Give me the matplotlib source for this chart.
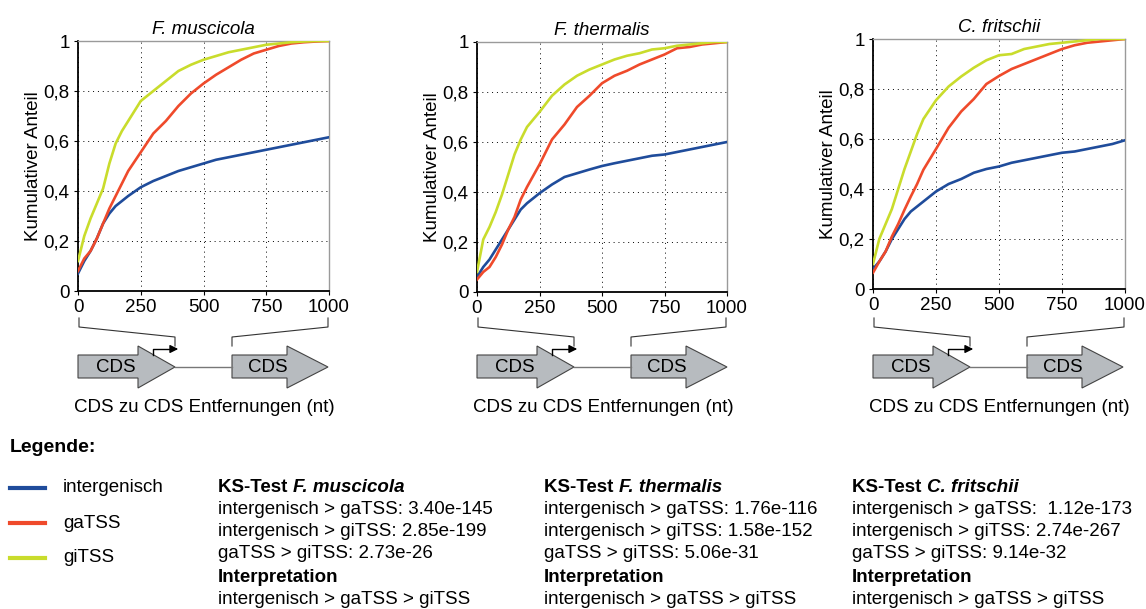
import numpy as np
import matplotlib.pyplot as plt
from matplotlib.patches import Polygon

plt.rcParams["font.family"] = ["Liberation Sans", "DejaVu Sans"]

# distance grid (nt) shared by all curves
dist = [0, 25, 50, 75, 100, 125, 150, 175, 200, 250, 300, 350, 400, 450,
        500, 550, 600, 650, 700, 750, 800, 850, 900, 950, 1000]

species = ["F. muscicola", "F. thermalis", "C. fritschii"]

musc_inter = [0.07, 0.12, 0.16, 0.21, 0.27, 0.31, 0.34, 0.36, 0.38, 0.415, 0.44, 0.46, 0.48,
              0.495, 0.51, 0.525, 0.535, 0.545, 0.555, 0.565, 0.575, 0.585, 0.595, 0.605, 0.615]
musc_ga = [0.08, 0.13, 0.16, 0.21, 0.27, 0.33, 0.38, 0.43, 0.48, 0.555, 0.63, 0.68, 0.74,
           0.79, 0.83, 0.865, 0.895, 0.925, 0.95, 0.965, 0.98, 0.99, 0.995, 0.998, 1.0]
musc_gi = [0.12, 0.22, 0.29, 0.35, 0.41, 0.51, 0.59, 0.64, 0.68, 0.76, 0.80, 0.84, 0.88,
           0.905, 0.925, 0.94, 0.955, 0.965, 0.975, 0.985, 0.99, 0.995, 0.998, 1.0, 1.0]

therm_inter = [0.06, 0.10, 0.13, 0.17, 0.21, 0.25, 0.29, 0.33, 0.355, 0.395, 0.43, 0.46, 0.475,
               0.49, 0.504, 0.515, 0.525, 0.535, 0.545, 0.55, 0.56, 0.57, 0.58, 0.59, 0.60]
therm_ga = [0.05, 0.08, 0.10, 0.14, 0.19, 0.25, 0.30, 0.37, 0.42, 0.51, 0.61, 0.67, 0.74,
            0.785, 0.835, 0.865, 0.885, 0.91, 0.93, 0.95, 0.975, 0.98, 0.99, 0.995, 1.0]
therm_gi = [0.08, 0.21, 0.26, 0.32, 0.39, 0.47, 0.55, 0.61, 0.66, 0.72, 0.785, 0.83, 0.865,
            0.89, 0.91, 0.93, 0.945, 0.955, 0.97, 0.975, 0.985, 0.99, 0.995, 1.0, 1.0]

frit_inter = [0.08, 0.11, 0.15, 0.20, 0.24, 0.28, 0.31, 0.33, 0.35, 0.39, 0.42, 0.44, 0.465,
              0.48, 0.49, 0.505, 0.515, 0.525, 0.535, 0.545, 0.55, 0.56, 0.57, 0.58, 0.595]
frit_ga = [0.065, 0.11, 0.15, 0.21, 0.26, 0.317, 0.37, 0.42, 0.477, 0.56, 0.645, 0.71, 0.76,
           0.82, 0.852, 0.88, 0.90, 0.92, 0.94, 0.96, 0.975, 0.985, 0.99, 0.995, 1.0]
frit_gi = [0.10, 0.20, 0.26, 0.32, 0.40, 0.48, 0.55, 0.62, 0.68, 0.755, 0.81, 0.85, 0.885,
           0.915, 0.935, 0.94, 0.96, 0.97, 0.98, 0.985, 0.99, 0.995, 1.0, 1.0, 1.0]

curves = [
    (musc_inter, musc_ga, musc_gi),
    (therm_inter, therm_ga, therm_gi),
    (frit_inter, frit_ga, frit_gi),
]

series_names = ["intergenisch", "gaTSS", "giTSS"]
colors = ["#1f4c9b", "#ef4a2b", "#c9dc2c"]

ks_rows = [
    ["intergenisch > gaTSS: 3.40e-145", "intergenisch > giTSS: 2.85e-199", "gaTSS > giTSS: 2.73e-26"],
    ["intergenisch > gaTSS: 1.76e-116", "intergenisch > giTSS: 1.58e-152", "gaTSS > giTSS: 5.06e-31"],
    ["intergenisch > gaTSS:  1.12e-173", "intergenisch > giTSS: 2.74e-267", "gaTSS > giTSS: 9.14e-32"],
]
interpretation = "intergenisch > gaTSS > giTSS"

FS = 13.5
W, H = 1146, 609
fig = plt.figure(figsize=(W / 100, H / 100), dpi=100)

# overlay in pixel coordinates for the schematic and legend text
ov = fig.add_axes([0, 0, 1, 1])
ov.set_xlim(0, W)
ov.set_ylim(H, 0)
ov.axis("off")

panel_px = [(78, 291, 251, 250), (477, 292, 250, 250), (873, 289, 252, 250)]

for i, (name, ys) in enumerate(zip(species, curves)):
    x0, yb, w, h = panel_px[i]
    ax = fig.add_axes([x0 / W, (H - yb) / H, w / W, h / H])
    for y, c in zip(ys, colors):
        ax.plot(dist, y, color=c, lw=1.9, zorder=3)
    ax.set_xlim(0, 1000)
    ax.set_ylim(0, 1)
    ax.set_xticks([0, 250, 500, 750, 1000])
    ax.set_yticks([0, 0.2, 0.4, 0.6, 0.8, 1])
    ax.set_yticklabels(["0", "0,2", "0,4", "0,6", "0,8", "1"])
    ax.tick_params(labelsize=FS, length=3, width=0.8, pad=3)
    ax.grid(True, color="black", ls=(0, (1, 4)), lw=0.7)
    for s in ["top", "right"]:
        ax.spines[s].set_color("#9a9a9a")
        ax.spines[s].set_linewidth(1.0)
    for s in ["left", "bottom"]:
        ax.spines[s].set_linewidth(1.3)
    ax.set_title(name, style="italic", fontsize=FS, pad=5)
    ax.set_ylabel("Kumulativer Anteil", fontsize=FS, labelpad=1)

    # schematic of CDS to CDS distance
    x1 = x0 + w
    lk = dict(color="#333333", lw=0.8)
    ov.plot([x0 + 1, x0 + 1, x0 + 97, x0 + 97], [318, 327, 337, 346], **lk)
    ov.plot([x1 - 1, x1 - 1, x0 + 154, x0 + 154], [318, 327, 337, 346], **lk)
    ov.plot([x0 + 97, x0 + 154], [367, 367], color="#777777", lw=1.0)
    for xl, xn, xt in [(x0, x0 + 60, x0 + 97), (x0 + 154, x0 + 209, x0 + 250)]:
        poly = Polygon([(xl, 355), (xn, 355), (xn, 346), (xt, 367), (xn, 388), (xn, 378), (xl, 378)],
                       closed=True, facecolor="#b7bbbf", edgecolor="#444444", lw=0.8)
        ov.add_patch(poly)
        ov.text((xl + xn) / 2 + 8, 367, "CDS", ha="center", va="center", fontsize=FS)
    ov.plot([x0 + 75, x0 + 75, x0 + 92], [355, 349, 349], color="black", lw=1.0)
    ov.annotate("", xy=(x0 + 103, 349), xytext=(x0 + 90, 349),
                arrowprops=dict(arrowstyle="-|>", color="black", lw=1.0, mutation_scale=12))
    ov.text(x0 + 126, 408, "CDS zu CDS Entfernungen (nt)", ha="center", va="center", fontsize=FS)

# legend
ov.text(10, 448, "Legende:", fontsize=14, fontweight="bold", va="center")
for k, (lab, c) in enumerate(zip(series_names, colors)):
    yy = 488 + k * 35
    ov.plot([10, 45], [yy, yy], color=c, lw=3)
    ov.text(63, yy, lab, fontsize=FS, va="center")

# KS test text blocks
fig.canvas.draw()
renderer = fig.canvas.get_renderer()
cols_x = [218, 544, 852]
for i, name in enumerate(species):
    xx = cols_x[i]
    t = ov.text(xx, 488, "KS-Test ", fontsize=FS, fontweight="bold", va="center")
    bb = t.get_window_extent(renderer)
    ov.text(xx + bb.width, 488, name, fontsize=FS, fontweight="bold", style="italic", va="center")
    for j, row in enumerate(ks_rows[i]):
        ov.text(xx, 510 + j * 22, row, fontsize=FS, va="center")
    ov.text(xx, 577, "Interpretation", fontsize=FS, fontweight="bold", va="center")
    ov.text(xx, 599, interpretation, fontsize=FS, va="center")

fig.savefig("out.png", dpi=100)
